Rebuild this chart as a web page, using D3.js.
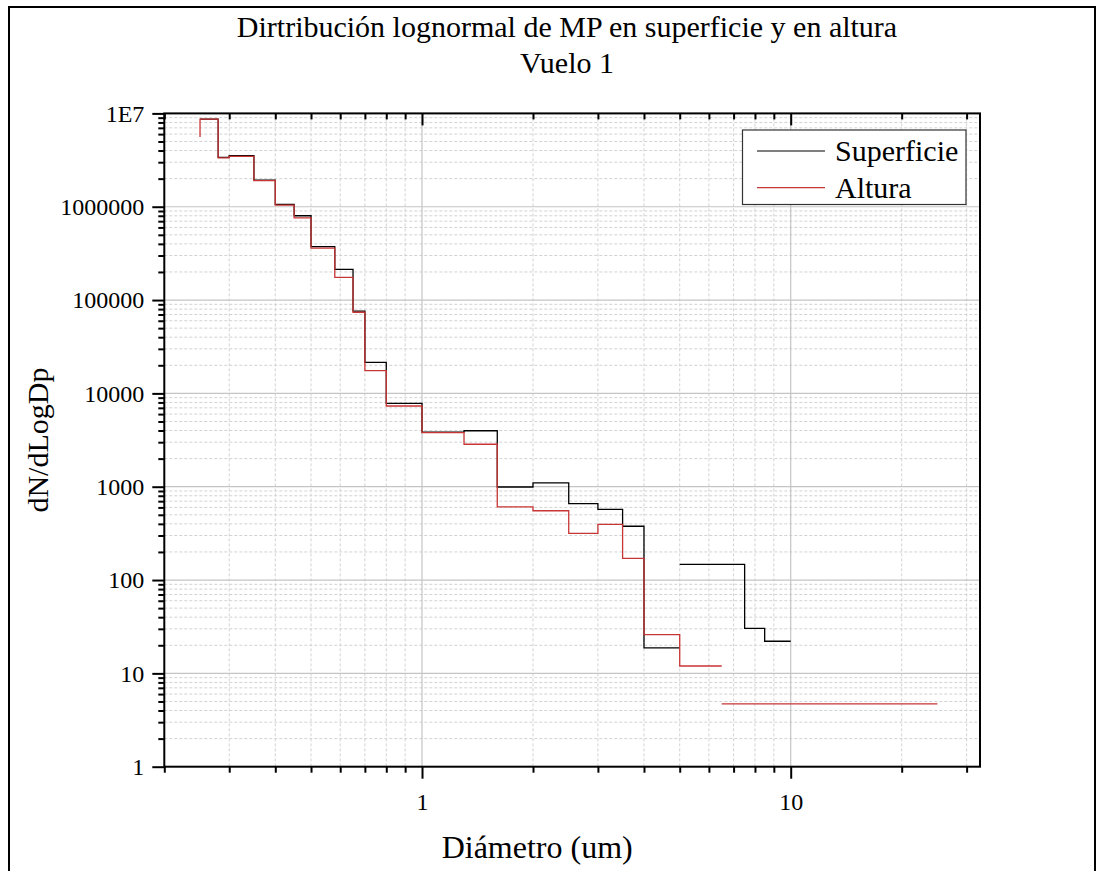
<!DOCTYPE html>
<html><head><meta charset="utf-8">
<script src="https://cdn.jsdelivr.net/npm/d3@7"></script>
<style>
body{margin:0;background:#fff}
svg{display:block}
text{font-family:"Liberation Serif","Times New Roman",serif;fill:#000}
</style>
</head><body><svg id="c" width="1104" height="871"></svg>
<script>
// ---------- data ----------
const titleLines = ["Dirtribución lognormal de MP en superficie y en altura", "Vuelo 1"];
const xLabel = "Diámetro (um)";
const yLabel = "dN/dLogDp";
const seriesNames = ["Superficie", "Altura"];
const xMajorTicks = [1, 10];
const xTickLabels = ["1", "10"];
const yMajorTicks = [1, 10, 100, 1000, 10000, 100000, 1000000, 10000000];
const yTickLabels = ["1", "10", "100", "1000", "10000", "100000", "1000000", "1E7"];
// step points (vertical-then-horizontal steps); null = break in the line
const supX = [0.25, 0.28, 0.3, 0.35, 0.4, 0.45, 0.5, 0.58, 0.65, 0.7, 0.8, 1.0, 1.3, 1.6, 2.0, 2.5, 3.0, 3.5, 4.0, 5.0, null, 5.0, 6.5, 7.5, 8.5, 10];
const supY = [8.7e6, 8.7e6, 3.38e6, 3.52e6, 1.93e6, 1.06e6, 8.0e5, 3.73e5, 2.13e5, 7.6e4, 2.15e4, 7830, 3850, 3980, 993, 1100, 658, 573, 377, 18.8, null, 147.5, 147.5, 147.5, 30.4, 22.1];
const altX = [0.25, 0.28, 0.3, 0.35, 0.4, 0.45, 0.5, 0.58, 0.65, 0.7, 0.8, 1.0, 1.3, 1.6, 2.0, 2.5, 3.0, 3.5, 4.0, 5.0, 6.5, null, 6.5, 25];
const altY = [5.6e6, 8.7e6, 3.33e6, 3.47e6, 1.9e6, 1.04e6, 7.6e5, 3.61e5, 1.75e5, 7.4e4, 1.75e4, 7330, 3800, 2850, 607, 553, 317, 395, 171, 26, 12, null, 4.7, 4.7];

// ---------- layout ----------
const svg = d3.select("#c");
const L = 164.3, R = 980, T = 113.4, B = 766.7;
const x = d3.scaleLog().domain([0.2, Math.pow(10, (R - 422) / 368.7)]).range([L, R]);
const y = d3.scaleLog().domain([1, 1e7]).range([B, T]);
const colors = ["#000000", "#c83535"];

// outer border
svg.append("rect").attr("x", 9).attr("y", 7).attr("width", 1086).attr("height", 880)
  .attr("fill", "none").attr("stroke", "#000").attr("stroke-width", 2);

// minor values
const xMinor = [];
[0.1, 1, 10].forEach(p => { for (let k = 2; k <= 9; k++) { const v = +(k * p).toPrecision(3); if (v >= 0.2 && v <= x.domain()[1]) xMinor.push(v); } });
const yMinor = [];
for (let e = 0; e < 7; e++) for (let k = 2; k <= 9; k++) yMinor.push(k * Math.pow(10, e));

// grid
const grid = svg.append("g");
grid.selectAll(".gxm").data(xMinor.filter(v => v > 0.2)).join("line")
  .attr("x1", d => x(d)).attr("x2", d => x(d)).attr("y1", T).attr("y2", B)
  .attr("stroke", "#d2d2d2").attr("stroke-width", 1).attr("stroke-dasharray", "3,2");
grid.selectAll(".gym").data(yMinor).join("line")
  .attr("x1", L).attr("x2", R).attr("y1", d => y(d)).attr("y2", d => y(d))
  .attr("stroke", "#d2d2d2").attr("stroke-width", 1).attr("stroke-dasharray", "3,2");
grid.selectAll(".gxM").data(xMajorTicks).join("line")
  .attr("x1", d => x(d)).attr("x2", d => x(d)).attr("y1", T).attr("y2", B)
  .attr("stroke", "#c4c4c4").attr("stroke-width", 1.2);
grid.selectAll(".gyM").data(yMajorTicks.slice(1, -1)).join("line")
  .attr("x1", L).attr("x2", R).attr("y1", d => y(d)).attr("y2", d => y(d))
  .attr("stroke", "#c4c4c4").attr("stroke-width", 1.2);

// data lines
svg.append("clipPath").attr("id", "pc").append("rect").attr("x", L).attr("y", T).attr("width", R - L).attr("height", B - T);
const line = d3.line().defined(d => d.x != null && d.y != null).x(d => x(d.x)).y(d => y(d.y)).curve(d3.curveStepBefore);
const series = [supX.map((v, i) => ({x: v, y: supY[i]})), altX.map((v, i) => ({x: v, y: altY[i]}))];
series.forEach((s, i) => {
  svg.append("path").attr("clip-path", "url(#pc)").attr("d", line(s))
    .attr("fill", "none").attr("stroke", colors[i]).attr("stroke-width", 1.3);
});

// axes
function styleAxis(g) { g.select(".domain").remove(); g.selectAll(".tick line").attr("stroke", "#000").attr("stroke-width", 2); }
const fmtY = d => yTickLabels[yMajorTicks.indexOf(d)];
const fmtX = d => xTickLabels[xMajorTicks.indexOf(d)];
// left
svg.append("g").attr("transform", `translate(${L},0)`).call(d3.axisLeft(y).tickValues(yMinor).tickSize(6).tickFormat("")).call(styleAxis);
const gl = svg.append("g").attr("transform", `translate(${L},0)`).call(d3.axisLeft(y).tickValues(yMajorTicks).tickSize(12).tickPadding(8).tickFormat(fmtY)).call(styleAxis);
gl.selectAll("text").attr("font-size", 24).attr("font-family", "Liberation Serif").attr("fill", "#000");
// bottom
svg.append("g").attr("transform", `translate(0,${B})`).call(d3.axisBottom(x).tickValues(xMinor).tickSize(6).tickFormat("")).call(styleAxis);
const gb = svg.append("g").attr("transform", `translate(0,${B})`).call(d3.axisBottom(x).tickValues(xMajorTicks).tickSize(12).tickPadding(14).tickFormat(fmtX)).call(styleAxis);
gb.selectAll("text").attr("font-size", 24).attr("font-family", "Liberation Serif").attr("fill", "#000");
// top (inward ticks)
svg.append("g").attr("transform", `translate(0,${T})`).call(d3.axisBottom(x).tickValues(xMinor).tickSize(6).tickFormat("")).call(styleAxis);
svg.append("g").attr("transform", `translate(0,${T})`).call(d3.axisBottom(x).tickValues(xMajorTicks).tickSize(12).tickFormat("")).call(styleAxis);
// frame
svg.append("rect").attr("x", L).attr("y", T).attr("width", R - L).attr("height", B - T)
  .attr("fill", "none").attr("stroke", "#000").attr("stroke-width", 2);

// titles
svg.append("text").attr("x", 567).attr("y", 37).attr("text-anchor", "middle").attr("font-size", 30).text(titleLines[0]);
svg.append("text").attr("x", 567).attr("y", 73).attr("text-anchor", "middle").attr("font-size", 30).text(titleLines[1]);
svg.append("text").attr("x", (L + R) / 2 - 35).attr("y", 858).attr("text-anchor", "middle").attr("font-size", 32).text(xLabel);
svg.append("text").attr("transform", `translate(48,${(T + B) / 2}) rotate(-90)`).attr("text-anchor", "middle").attr("font-size", 30).text(yLabel);

// legend
const lg = svg.append("g");
lg.append("rect").attr("x", 742.5).attr("y", 130).attr("width", 223.5).attr("height", 74.5)
  .attr("fill", "#fff").attr("stroke", "#333").attr("stroke-width", 1.2);
seriesNames.forEach((n, i) => {
  const yy = 151 + i * 36.7;
  lg.append("line").attr("x1", 757).attr("x2", 825).attr("y1", yy).attr("y2", yy).attr("stroke", colors[i]).attr("stroke-width", 1.2);
  lg.append("text").attr("x", 835).attr("y", yy + 10).attr("font-size", 30).text(n);
});
</script>
</body></html>
